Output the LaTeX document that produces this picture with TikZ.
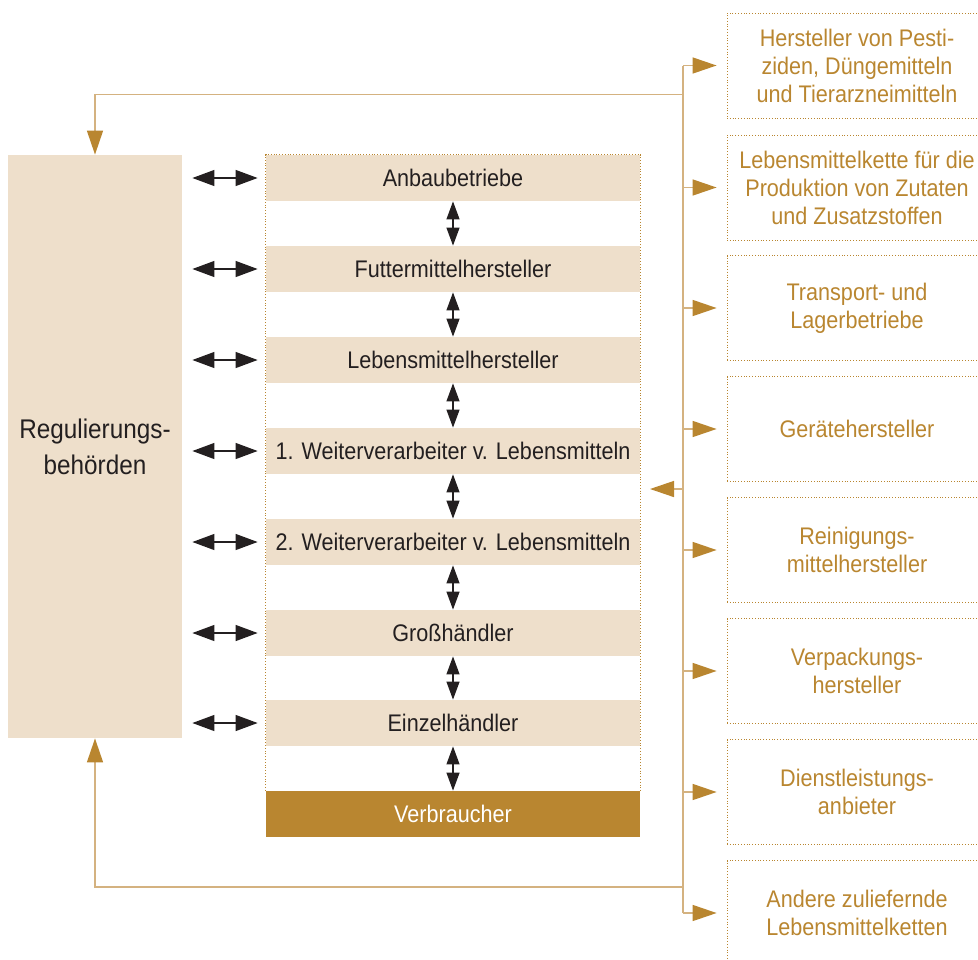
\documentclass[tikz,border=0pt]{standalone}
\usepackage{fontspec}
\setmainfont{Liberation Sans}[FakeStretch=0.9]
\usetikzlibrary{arrows.meta}

\definecolor{beige}{RGB}{238,223,203}
\definecolor{gold}{RGB}{185,134,48}
\definecolor{goldline}{RGB}{212,178,128}
\definecolor{ink}{RGB}{35,31,32}

\tikzset{
	stage/.style={fill=beige, draw=none, minimum width=187pt, minimum height=23pt,
		inner sep=0pt, text=ink, font=\fontsize{12}{14}\selectfont},
	supplier/.style={draw=gold, densely dotted, minimum width=130pt, minimum height=52.5pt,
		inner sep=0pt, align=center, text=gold, font=\fontsize{12}{14}\selectfont},
	dblarrow/.style={{Triangle[length=11pt,width=8pt]}-{Triangle[length=11pt,width=8pt]},
		ink, line width=0.6pt},
	steparrow/.style={{Triangle[length=9pt,width=6.5pt]}-{Triangle[length=9pt,width=6.5pt]},
		ink, line width=0.6pt},
	goldarrow/.style={-{Triangle[length=12pt,width=8pt,color=gold]}, goldline, line width=0.7pt}
}

\begin{document}
\begin{tikzpicture}[x=0.5pt, y=-0.5pt]
		\useasboundingbox (0, 0) rectangle (978, 959);

		% Regulierungsbehörden
		\node[fill=beige, minimum width=87pt, minimum height=291.5pt, inner sep=0pt, align=center,
			text=ink, font=\fontsize{13.5}{18}\selectfont] (reg) at (95, 446.5) {Regulierungs-\\behörden};

		% die Kette
		\node[stage] (anbau) at (453, 178) {Anbaubetriebe};
		\node[stage] (futter) at (453, 269) {Futtermittelhersteller};
		\node[stage] (lebens) at (453, 360) {Lebensmittelhersteller};
		\node[stage] (weiter1) at (453, 451) {1. Weiterverarbeiter v. Lebensmitteln};
		\node[stage] (weiter2) at (453, 542) {2. Weiterverarbeiter v. Lebensmitteln};
		\node[stage] (gross) at (453, 633) {Großhändler};
		\node[stage] (einzel) at (453, 723) {Einzelhändler};
		\node[stage, fill=gold, text=white] (verbr) at (453, 814) {Verbraucher};
		\draw[gold, densely dotted] (verbr.north west) |- (anbau.north east) -- (verbr.north east);

		% Pfeile zwischen den Stufen
		\draw[steparrow] (anbau.south) -- (futter.north);
		\draw[steparrow] (futter.south) -- (lebens.north);
		\draw[steparrow] (lebens.south) -- (weiter1.north);
		\draw[steparrow] (weiter1.south) -- (weiter2.north);
		\draw[steparrow] (weiter2.south) -- (gross.north);
		\draw[steparrow] (gross.south) -- (einzel.north);
		\draw[steparrow] (einzel.south) -- (verbr.north);

		% Pfeile zu den Behörden
		\draw[dblarrow, shorten <=5pt, shorten >=4pt] (reg.east |- anbau) -- (anbau.west);
		\draw[dblarrow, shorten <=5pt, shorten >=4pt] (reg.east |- futter) -- (futter.west);
		\draw[dblarrow, shorten <=5pt, shorten >=4pt] (reg.east |- lebens) -- (lebens.west);
		\draw[dblarrow, shorten <=5pt, shorten >=4pt] (reg.east |- weiter1) -- (weiter1.west);
		\draw[dblarrow, shorten <=5pt, shorten >=4pt] (reg.east |- weiter2) -- (weiter2.west);
		\draw[dblarrow, shorten <=5pt, shorten >=4pt] (reg.east |- gross) -- (gross.west);
		\draw[dblarrow, shorten <=5pt, shorten >=4pt] (reg.east |- einzel) -- (einzel.west);

		% Zulieferer
		\node[supplier] (pesti) at (857, 65.5) {Hersteller von Pesti-\\ziden, Düngemitteln\\und Tierarzneimitteln};
		\node[supplier] (zutat) at (857, 187.5) {Lebensmittelkette für die\\Produktion von Zutaten\\und Zusatzstoffen};
		\node[supplier] (trans) at (857, 308) {Transport- und\\Lagerbetriebe};
		\node[supplier] (geraet) at (857, 429) {Gerätehersteller};
		\node[supplier] (reinig) at (857, 550) {Reinigungs-\\mittelhersteller};
		\node[supplier] (verpack) at (857, 671) {Verpackungs-\\hersteller};
		\node[supplier] (dienst) at (857, 792) {Dienstleistungs-\\anbieter};
		\node[supplier] (andere) at (857, 913) {Andere zuliefernde\\Lebensmittelketten};

		% Sammelleitung
		\coordinate (trunk) at (683, 0);
		\coordinate (inflow) at (650, 489);
		\draw[goldline, line width=0.7pt] (trunk |- pesti) -- (trunk |- andere);
		\draw[goldarrow, shorten >=5pt] (trunk |- pesti) -- (pesti.west);
		\draw[goldarrow, shorten >=5pt] (trunk |- zutat) -- (zutat.west);
		\draw[goldarrow, shorten >=5pt] (trunk |- trans) -- (trans.west);
		\draw[goldarrow, shorten >=5pt] (trunk |- geraet) -- (geraet.west);
		\draw[goldarrow, shorten >=5pt] (trunk |- reinig) -- (reinig.west);
		\draw[goldarrow, shorten >=5pt] (trunk |- verpack) -- (verpack.west);
		\draw[goldarrow, shorten >=5pt] (trunk |- dienst) -- (dienst.west);
		\draw[goldarrow, shorten >=5pt] (trunk |- andere) -- (andere.west);
		\draw[goldarrow] (trunk |- inflow) -- (inflow);

		% Rückkopplung zu den Behörden
		\draw[goldarrow] ([yshift=-14.5pt]trunk |- pesti) -| (reg.north);
		\draw[goldarrow] ([yshift=13pt]trunk |- andere) -| (reg.south);

	\end{tikzpicture}
\end{document}
